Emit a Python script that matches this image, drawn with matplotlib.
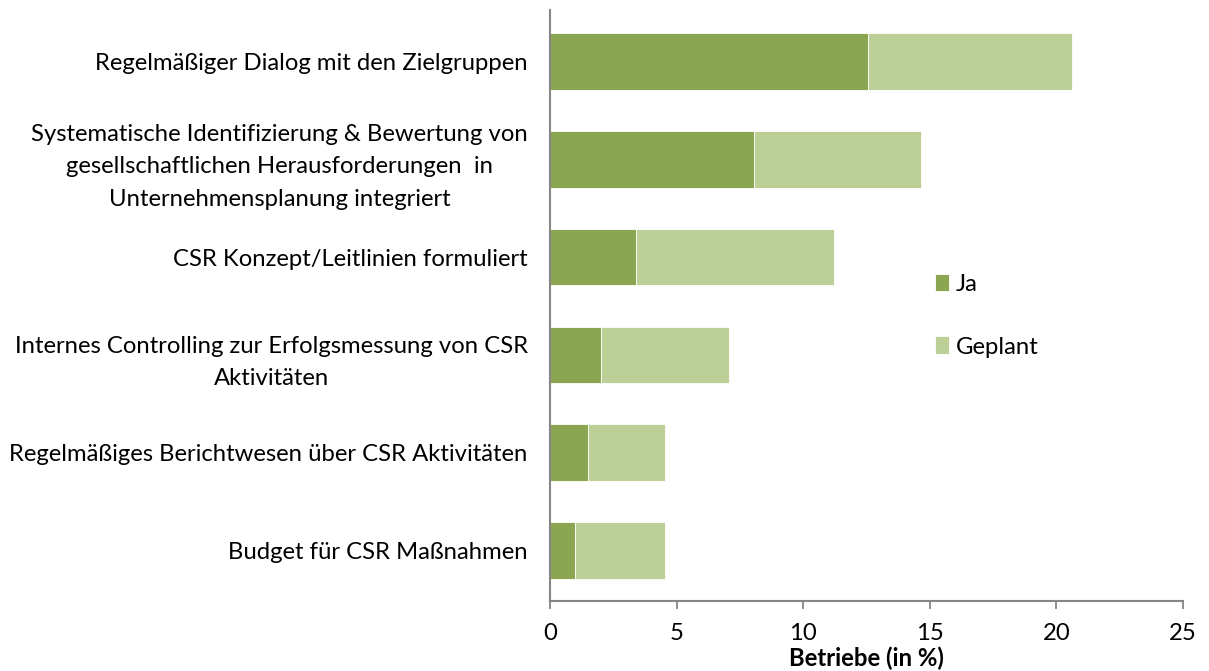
import matplotlib
matplotlib.use("Agg")
import matplotlib.pyplot as plt
import numpy as np

categories = [
    "Regelmäßiger Dialog mit den Zielgruppen",
    "Systematische Identifizierung & Bewertung von\ngesellschaftlichen Herausforderungen  in\nUnternehmensplanung integriert",
    "CSR Konzept/Leitlinien formuliert",
    "Internes Controlling zur Erfolgsmessung von CSR\nAktivitäten",
    "Regelmäßiges Berichtwesen über CSR Aktivitäten",
    "Budget für CSR Maßnahmen",
]
ja = [12.55, 8.05, 3.4, 2.0, 1.5, 1.0]
geplant = [8.05, 6.6, 7.8, 5.05, 3.05, 3.55]
xticks = [0, 5, 10, 15, 20, 25]

plt.rcParams['font.family'] = ['Lato', 'DejaVu Sans']

fig = plt.figure(figsize=(12.09, 6.71), dpi=100)
ax = fig.add_axes([550/1209, 1-601/671, (1183-550)/1209, (601-10)/671])

n = len(categories)
y = np.arange(n)[::-1]
c_ja = "#8BA650"
c_gp = "#BBCF96"
ax.barh(y, ja, height=0.58, color=c_ja, edgecolor="white", linewidth=0.6, label="Ja")
ax.barh(y, geplant, left=ja, height=0.58, color=c_gp, edgecolor="white", linewidth=0.6, label="Geplant")

fs = 17.2
ax.set_xlim(0, 25)
ax.set_ylim(-0.52, 5.53)
ax.set_xticks(xticks)
ax.set_xticklabels([str(t) for t in xticks], fontsize=fs)
ax.set_yticks(y)
ax.set_yticklabels(categories, fontsize=fs, multialignment="center", linespacing=1.65)
ax.tick_params(axis="y", length=0, pad=16)
ax.tick_params(axis="x", length=6, width=1.3, color="#868686", pad=10)
for s in ["top", "right"]:
    ax.spines[s].set_visible(False)
for s in ["left", "bottom"]:
    ax.spines[s].set_color("#868686")
    ax.spines[s].set_linewidth(1.5)

ax.set_xlabel("Betriebe (in %)", fontsize=fs, fontweight="bold", labelpad=2)

leg = ax.legend(loc="upper left", bbox_to_anchor=((925-550)/633, (601-264)/591),
                frameon=False, fontsize=fs, handlelength=0.6, handleheight=0.75,
                handletextpad=0.3, labelspacing=1.75, borderaxespad=0)

fig.savefig("out.png", dpi=100)
